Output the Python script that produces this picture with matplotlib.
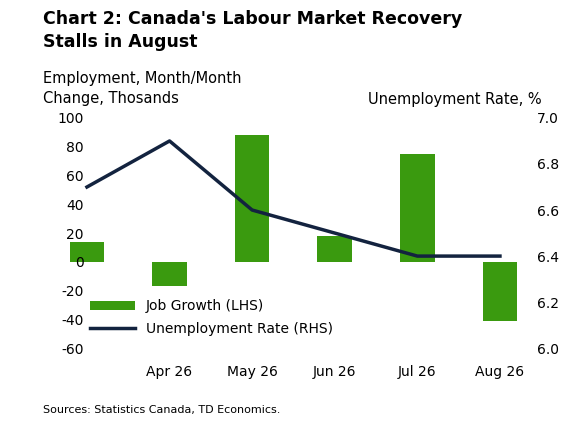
import matplotlib.pyplot as plt

months = ['Mar 26', 'Apr 26', 'May 26', 'Jun 26', 'Jul 26', 'Aug 26']
job_growth = [14, -17, 88, 18, 75, -41]
unemp_rate = [6.7, 6.9, 6.6, 6.5, 6.4, 6.4]

plt.rcParams['font.family'] = ['DejaVu Sans']
plt.rcParams['axes.unicode_minus'] = False
fig = plt.figure(figsize=(5.79, 4.32), dpi=100)
ax = fig.add_axes([0.164, 0.194, 0.734, 0.533])
ax2 = ax.twinx()

x = range(len(months))
bars = ax.bar(x, job_growth, width=0.42, color='#3a9a0f', clip_on=False)
line, = ax2.plot(x, unemp_rate, color='#13233f', lw=2.5, clip_on=False)

ax.set_ylim(-60, 100)
ax.set_yticks(range(-60, 101, 20))
ax2.set_ylim(6.0, 7.0)
ax2.set_yticks([6.0, 6.2, 6.4, 6.6, 6.8, 7.0])
ax2.set_yticklabels(['%.1f' % v for v in [6.0, 6.2, 6.4, 6.6, 6.8, 7.0]])
ax.set_xticks(list(x))
ax.set_xticklabels(months)
ax.set_xlim(0.097, 5.242)
for a in (ax, ax2):
    for s in a.spines.values():
        s.set_visible(False)
    a.tick_params(length=0, labelsize=10)
ax.tick_params(axis='x', pad=12)
ax.tick_params(axis='y', pad=8)
ax2.tick_params(axis='y', pad=12)

ax.legend([bars, line], ['Job Growth (LHS)', 'Unemployment Rate (RHS)'],
          loc='lower left', bbox_to_anchor=(-0.04, 0.0), frameon=False,
          fontsize=10, handlelength=3.2, labelspacing=0.6)

fig.text(0.075, 0.93, "Chart 2: Canada's Labour Market Recovery\nStalls in August",
         fontsize=12.5, fontweight='bold', va='center', linespacing=1.35)
fig.text(0.075, 0.795, 'Employment, Month/Month\nChange, Thosands', fontsize=10.5,
         va='center', linespacing=1.4)
fig.text(0.935, 0.77, 'Unemployment Rate, %', fontsize=10.5, ha='right', va='center')
fig.text(0.075, 0.045, 'Sources: Statistics Canada, TD Economics.', fontsize=8)

fig.savefig('out.png', dpi=100)
